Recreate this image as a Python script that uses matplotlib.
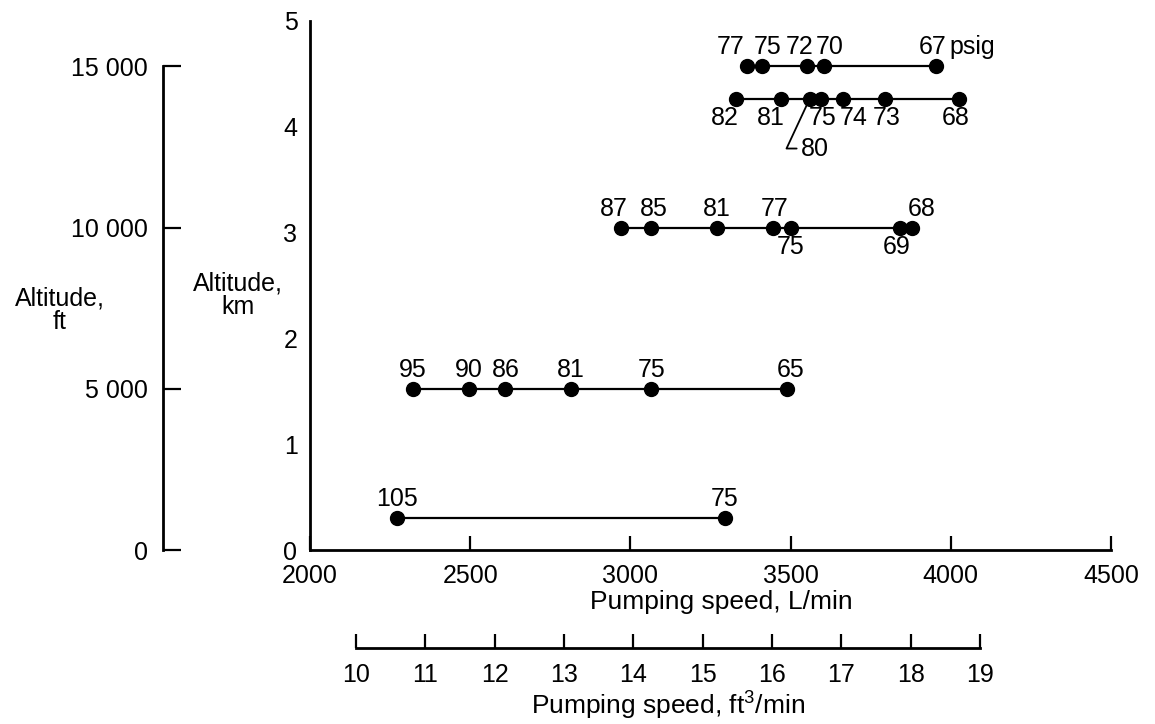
import numpy as np
import matplotlib.pyplot as plt
from matplotlib.ticker import FixedLocator

plt.rcParams['font.family'] = ['Liberation Sans', 'DejaVu Sans']
plt.rcParams['mathtext.fontset'] = 'custom'
plt.rcParams['mathtext.rm'] = 'Liberation Sans'

FT_POR_KM = 3280.84

# Altitud de cada serie (ft)
alt_ft = [15000, 14000, 10000, 5000, 1000]

# Velocidad de bombeo (L/min) y presión (psig) de cada punto
vel_15000 = [3365, 3410, 3550, 3605, 3955]
psig_15000 = ['77', '75', '72', '70', '67']
vel_14000 = [3330, 3470, 3560, 3595, 3665, 3795, 4025]
psig_14000 = ['82', '81', '80', '75', '74', '73', '68']
vel_10000 = [2970, 3065, 3270, 3445, 3500, 3840, 3880]
psig_10000 = ['87', '85', '81', '77', '75', '69', '68']
vel_5000 = [2320, 2495, 2610, 2815, 3065, 3490]
psig_5000 = ['95', '90', '86', '81', '75', '65']
vel_1000 = [2270, 3295]
psig_1000 = ['105', '75']

ticks_lmin = [2000, 2500, 3000, 3500, 4000, 4500]
ticks_km = [0, 1, 2, 3, 4, 5]
ticks_ft = [0, 5000, 10000, 15000]
etiquetas_ft = ['0', '5 000', '10 000', '15 000']
ticks_ft3 = [10, 11, 12, 13, 14, 15, 16, 17, 18, 19]

# Lado de cada etiqueta: 1 arriba, -1 abajo, 0 con línea guía
lado = [
    [1, 1, 1, 1, 1],
    [-1, -1, 0, -1, -1, -1, -1],
    [1, 1, 1, 1, -1, -1, 1],
    [1, 1, 1, 1, 1, 1],
    [1, 1],
]
# Corrimiento horizontal de cada etiqueta (px)
corr = [
    [-17, 6, -7, 5, -4],
    [-11, -10, 0, 2, 10, 2, -3],
    [-7, 3, 0, 2, 0, -3, 9],
    [0, 0, 0, 0, 0, 3],
    [0, 0],
]

W, H = 1155, 724
PX = 72 / 100  # puntos por pixel
FS = 18        # números
FS_TIT = 19    # títulos de ejes


def caja(x0, x1, y0, y1):
    # caja en pixeles (y desde arriba) -> fracción de figura
    return [x0 / W, 1 - y1 / H, (x1 - x0) / W, (y1 - y0) / H]


def graficar():
    fig = plt.figure(figsize=(W / 100, H / 100), dpi=100)

    # Eje principal: L/min vs km
    ax = fig.add_axes(caja(310, 1111, 21, 550))
    ax.set_xlim(2000, 4500)
    ax.set_ylim(0, 5)
    for s in ['top', 'right']:
        ax.spines[s].set_visible(False)
    for s in ['left', 'bottom']:
        ax.spines[s].set_linewidth(2)
    ax.set_xticks(ticks_lmin)
    ax.set_yticks(ticks_km)
    ax.tick_params(axis='x', direction='in', length=10, width=1.6, pad=10, labelsize=FS)
    ax.tick_params(axis='y', length=0, pad=9, labelsize=FS)
    ax.yaxis.set_minor_locator(FixedLocator([5]))
    ax.tick_params(axis='y', which='minor', direction='in', length=13, width=1.6)
    ax.set_xlabel('Pumping speed, L/min', fontsize=FS_TIT, va='center')
    ax.xaxis.set_label_coords(0.513, -0.099)

    series = [(vel_15000, psig_15000), (vel_14000, psig_14000), (vel_10000, psig_10000),
              (vel_5000, psig_5000), (vel_1000, psig_1000)]
    for i, (vel, psig) in enumerate(series):
        y = alt_ft[i] / FT_POR_KM
        ax.plot(vel, [y] * len(vel), '-o', color='black', lw=1.6, ms=10)
        for v, p, l, c in zip(vel, psig, lado[i], corr[i]):
            if l == 0:
                ax.annotate(p, (v, y), xytext=(5 * PX, -50 * PX), textcoords='offset points',
                            ha='center', va='center', fontsize=FS,
                            arrowprops=dict(arrowstyle='-', color='black', lw=1.3,
                                            shrinkA=1, shrinkB=0,
                                            connectionstyle='angle,angleA=0,angleB=65,rad=0'))
            else:
                ax.annotate(p, (v, y), xytext=(c * PX, l * 19 * PX), textcoords='offset points',
                            ha='center', va='center', fontsize=FS)
    # unidad junto a la última etiqueta de arriba
    ax.annotate('psig', (vel_15000[-1], alt_ft[0] / FT_POR_KM), xytext=(13 * PX, 19 * PX),
                textcoords='offset points', ha='left', va='center', fontsize=FS)

    # Eje de altitud en ft
    ax_ft = fig.add_axes(caja(163, 175, 21, 550))
    ax_ft.patch.set_visible(False)
    ax_ft.set_ylim(0, 5 * FT_POR_KM)
    for s in ['top', 'right', 'bottom']:
        ax_ft.spines[s].set_visible(False)
    ax_ft.spines['left'].set_linewidth(2)
    ax_ft.spines['left'].set_bounds(0, 15000)
    ax_ft.set_xticks([])
    ax_ft.set_yticks(ticks_ft)
    ax_ft.set_yticklabels(etiquetas_ft)
    ax_ft.tick_params(axis='y', direction='in', length=13, width=1.6, pad=11, labelsize=FS)

    # Eje secundario en ft3/min
    ax_ft3 = fig.add_axes(caja(356, 980, 640, 648))
    ax_ft3.patch.set_visible(False)
    ax_ft3.set_xlim(10, 19)
    for s in ['top', 'right', 'left']:
        ax_ft3.spines[s].set_visible(False)
    ax_ft3.spines['bottom'].set_linewidth(2)
    ax_ft3.set_yticks([])
    ax_ft3.set_xticks(ticks_ft3)
    ax_ft3.tick_params(axis='x', direction='in', length=10, width=1.6, pad=11, labelsize=FS)
    fig.text(668 / W, 1 - 705 / H, 'Pumping speed, ft$^3$/min', fontsize=FS_TIT,
             ha='center', va='center')

    fig.text(60 / W, 1 - 310 / H, 'Altitude,\nft', fontsize=FS, ha='center', va='center',
             multialignment='center', linespacing=1.0)
    fig.text(238 / W, 1 - 295 / H, 'Altitude,\nkm', fontsize=FS, ha='center', va='center',
             multialignment='center', linespacing=1.0)

    fig.savefig('out.png', dpi=100)


graficar()
